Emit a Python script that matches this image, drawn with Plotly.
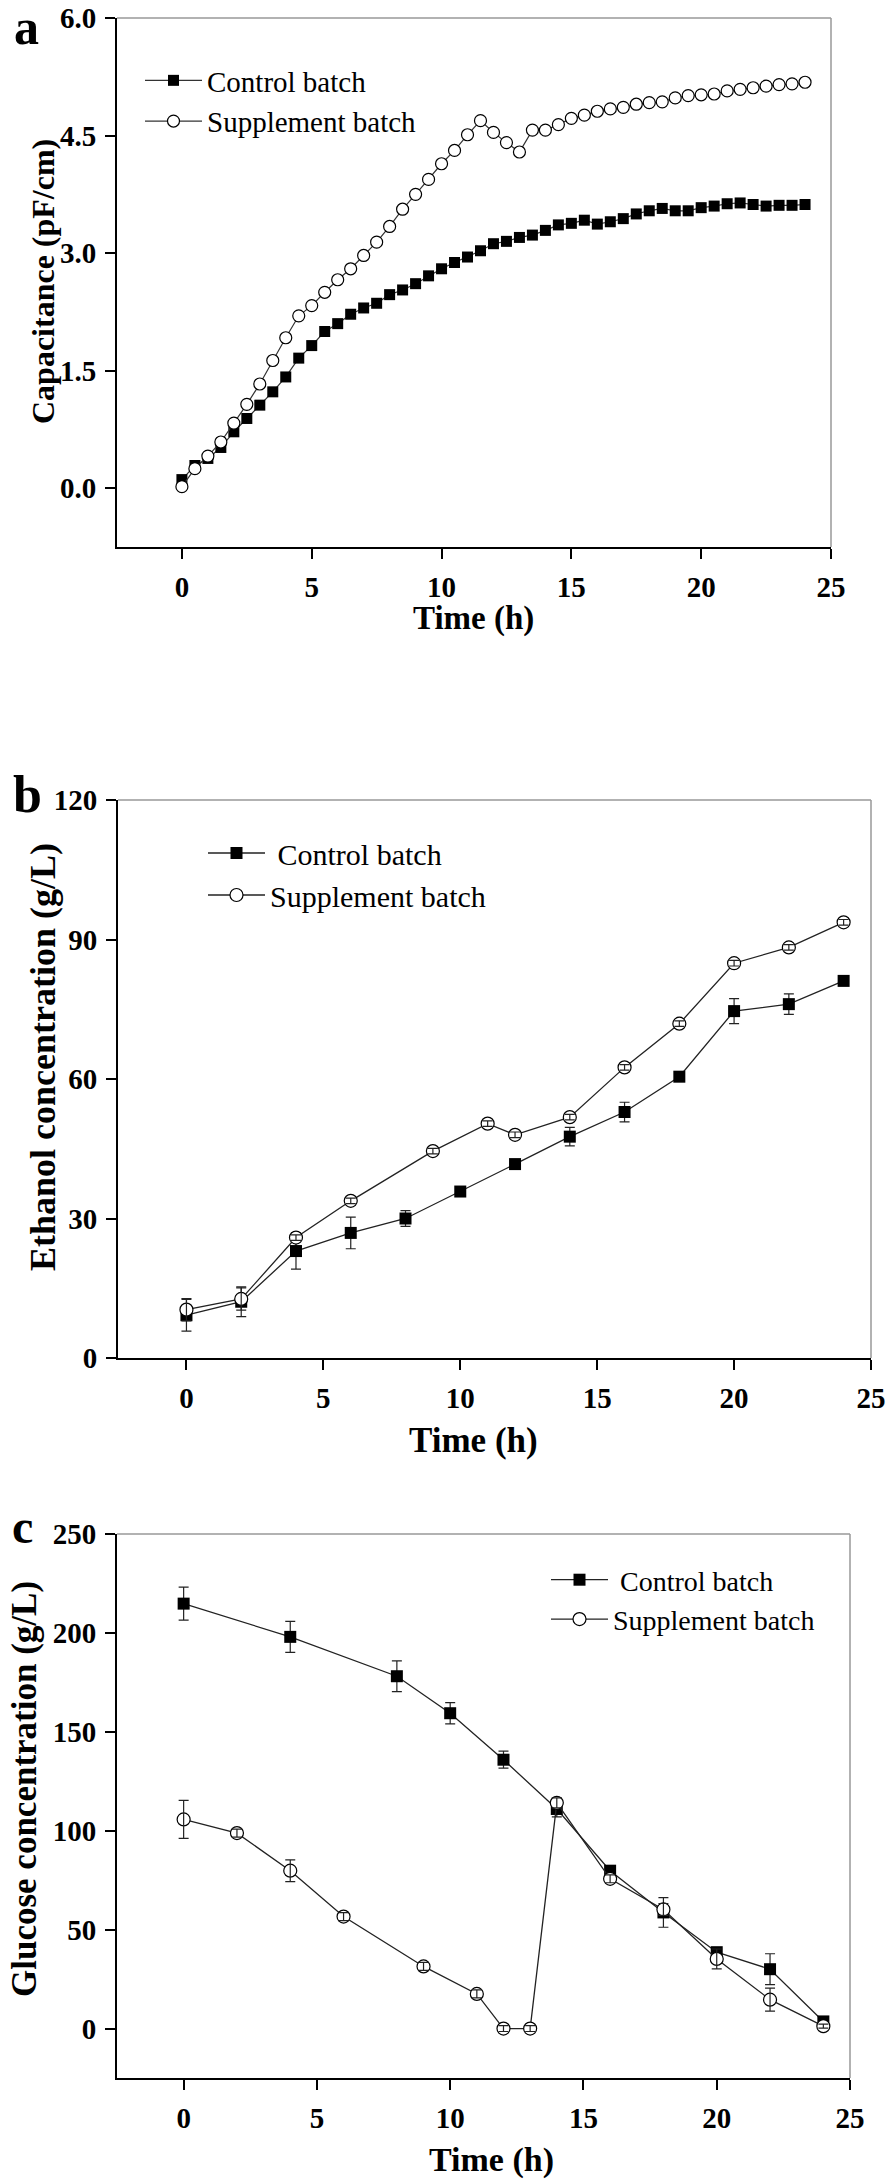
import plotly.graph_objects as go

W, H = 896, 2182

# ---------------- Data ----------------
# Panel a: capacitance (pF/cm)
t_cap = [0, 0.5, 1, 1.5, 2, 2.5, 3, 3.5, 4, 4.5, 5, 5.5, 6, 6.5, 7, 7.5, 8, 8.5, 9, 9.5,
         10, 10.5, 11, 11.5, 12, 12.5, 13, 13.5, 14, 14.5, 15, 15.5, 16, 16.5, 17, 17.5,
         18, 18.5, 19, 19.5, 20, 20.5, 21, 21.5, 22, 22.5, 23, 23.5, 24]
cap_control = [0.11, 0.29, 0.38, 0.52, 0.72, 0.89, 1.06, 1.23, 1.42, 1.66, 1.82, 2.00, 2.10,
               2.22, 2.30, 2.36, 2.47, 2.53, 2.61, 2.71, 2.80, 2.88, 2.95, 3.03, 3.12, 3.15,
               3.20, 3.23, 3.29, 3.36, 3.38, 3.42, 3.37, 3.40, 3.44, 3.50, 3.54, 3.57, 3.54,
               3.54, 3.58, 3.60, 3.63, 3.64, 3.62, 3.60, 3.61, 3.61, 3.62]
cap_supplement = [0.02, 0.25, 0.41, 0.59, 0.83, 1.07, 1.33, 1.63, 1.92, 2.20, 2.33, 2.50, 2.66,
                  2.80, 2.97, 3.14, 3.34, 3.56, 3.75, 3.94, 4.14, 4.31, 4.51, 4.69, 4.54, 4.41,
                  4.29, 4.57, 4.57, 4.64, 4.72, 4.76, 4.81, 4.84, 4.86, 4.90, 4.92, 4.93, 4.98,
                  5.01, 5.02, 5.03, 5.07, 5.09, 5.11, 5.13, 5.15, 5.16, 5.18]

# Panel b: ethanol concentration (g/L)
t_eth_control = [0, 2, 4, 6, 8, 10, 12, 14, 16, 18, 20, 22, 24]
eth_control = [9.2, 12.1, 23.0, 26.9, 30.0, 35.8, 41.7, 47.6, 52.9, 60.5, 74.6, 76.1, 81.1]
eth_control_err = [3.4, 3.2, 3.9, 3.4, 1.7, 0.8, 0.8, 2.0, 2.1, 0.8, 2.7, 2.2, 0.8]
t_eth_supplement = [0, 2, 4, 6, 9, 11, 12, 14, 16, 18, 20, 22, 24]
eth_supplement = [10.4, 12.7, 25.9, 33.8, 44.5, 50.4, 48.0, 51.8, 62.5, 71.9, 84.9, 88.3, 93.7]
eth_supplement_err = [2.4, 2.4, 0.6, 0.6, 0.6, 0.6, 0.6, 0.6, 0.6, 0.6, 0.6, 0.6, 0.6]

# Panel c: glucose concentration (g/L)
t_glu_control = [0, 4, 8, 10, 12, 14, 16, 18, 20, 22, 24]
glu_control = [214.8, 198.0, 178.1, 159.4, 135.9, 111.0, 79.8, 58.7, 38.6, 30.0, 3.6]
glu_control_err = [8.3, 7.8, 7.8, 5.4, 4.3, 4.0, 2.0, 7.5, 2.0, 7.8, 1.0]
t_glu_supplement = [0, 2, 4, 6, 9, 11, 12, 13, 14, 16, 18, 20, 22, 24]
glu_supplement = [105.7, 98.8, 79.8, 56.6, 31.4, 17.5, 0, 0, 114.1, 75.7, 60.2, 35.2, 14.6, 1.2]
glu_supplement_err = [9.6, 2.0, 5.5, 2.0, 2.0, 2.0, 1.5, 1.5, 2.5, 2.0, 3.0, 5.0, 5.8, 1.0]

x_ticks = [0, 5, 10, 15, 20, 25]
cap_ticks = [0, 1.5, 3.0, 4.5, 6.0]
eth_ticks = [0, 30, 60, 90, 120]
glu_ticks = [0, 50, 100, 150, 200, 250]

names = ["Control batch", "Supplement batch"]

# ---------------- Helpers ----------------
def px_x(p):
    return p / W

def px_y(p):
    return 1 - p / H

SERIF = "Liberation Serif"

fig = go.Figure()

sq = dict(symbol="square", color="black", size=11, line=dict(color="black", width=0))
circ = dict(symbol="circle", color="white", size=12, line=dict(color="black", width=1.2))

# Panel a
fig.add_trace(go.Scatter(x=t_cap, y=cap_control, mode="lines+markers", name=names[0],
                         line=dict(color="#333333", width=1.2), marker=sq,
                         xaxis="x", yaxis="y", legend="legend"))
fig.add_trace(go.Scatter(x=t_cap, y=cap_supplement, mode="lines+markers", name=names[1],
                         line=dict(color="#333333", width=1.2), marker=circ,
                         xaxis="x", yaxis="y", legend="legend"))

sq2 = dict(symbol="square", color="black", size=12, line=dict(color="black", width=0))
circ2 = dict(symbol="circle", color="white", size=13, line=dict(color="black", width=1.2))

def err(arr):
    return dict(type="data", array=arr, visible=True, color="#222222", thickness=1.2, width=5)

# Panel b
fig.add_trace(go.Scatter(x=t_eth_control, y=eth_control, mode="lines+markers",
                         name=" " + names[0], line=dict(color="#222222", width=1.3), marker=sq2,
                         error_y=err(eth_control_err),
                         xaxis="x2", yaxis="y2", legend="legend2"))
fig.add_trace(go.Scatter(x=t_eth_supplement, y=eth_supplement, mode="lines+markers",
                         name=names[1], line=dict(color="#222222", width=1.3), marker=circ2,
                         xaxis="x2", yaxis="y2", legend="legend2"))
fig.add_trace(go.Scatter(x=t_eth_supplement, y=eth_supplement, mode="markers",
                         marker=dict(size=1, color="rgba(0,0,0,0)"),
                         error_y=err(eth_supplement_err), showlegend=False, hoverinfo="skip",
                         xaxis="x2", yaxis="y2"))

# Panel c
fig.add_trace(go.Scatter(x=t_glu_control, y=glu_control, mode="lines+markers",
                         name=" " + names[0], line=dict(color="#222222", width=1.3), marker=sq2,
                         error_y=err(glu_control_err),
                         xaxis="x3", yaxis="y3", legend="legend3"))
fig.add_trace(go.Scatter(x=t_glu_supplement, y=glu_supplement, mode="lines+markers",
                         name=names[1], line=dict(color="#222222", width=1.3), marker=circ2,
                         xaxis="x3", yaxis="y3", legend="legend3"))
fig.add_trace(go.Scatter(x=t_glu_supplement, y=glu_supplement, mode="markers",
                         marker=dict(size=1, color="rgba(0,0,0,0)"),
                         error_y=err(glu_supplement_err), showlegend=False, hoverinfo="skip",
                         xaxis="x3", yaxis="y3"))

tickfont = dict(family=SERIF, size=29, color="black", weight="bold")
axis_common = dict(showline=True, linecolor="black", linewidth=2, ticks="outside",
                   ticklen=10, tickwidth=2, tickcolor="black", showgrid=False,
                   zeroline=False, tickfont=tickfont, fixedrange=True, automargin=False,
                   ticklabeloverflow="allow", ticklabelstandoff=3)

# domains (pixel boxes: left, right, top, bottom)
boxes = {
    "a": (117, 831, 18, 547),
    "b": (118, 871, 800, 1358),
    "c": (117, 850, 1534, 2078),
}

def dom(b):
    l, r, t, bt = b
    return [px_x(l), px_x(r)], [px_y(bt), px_y(t)]

xa, ya = dom(boxes["a"])
xb, yb = dom(boxes["b"])
xc, yc = dom(boxes["c"])

layout = dict(
    width=W, height=H, margin=dict(l=0, r=0, t=0, b=0, pad=0, autoexpand=False),
    paper_bgcolor="white", plot_bgcolor="white",
    xaxis=dict(domain=xa, anchor="y", range=[-2.5, 25], tickvals=x_ticks, **axis_common),
    yaxis=dict(domain=ya, anchor="x", range=[-0.75, 6.0], tickvals=cap_ticks, tickformat=".1f", **axis_common),
    xaxis2=dict(domain=xb, anchor="y2", range=[-2.5, 25], tickvals=x_ticks, **axis_common),
    yaxis2=dict(domain=yb, anchor="x2", range=[0, 120], tickvals=eth_ticks, **axis_common),
    xaxis3=dict(domain=xc, anchor="y3", range=[-2.5, 25], tickvals=x_ticks, **axis_common),
    yaxis3=dict(domain=yc, anchor="x3", range=[-25, 250], tickvals=glu_ticks, **axis_common),
    showlegend=True,
)

def leg(x, y, size):
    return dict(x=px_x(x), y=px_y(y), xanchor="left", yanchor="top",
                bgcolor="rgba(0,0,0,0)", borderwidth=0, itemwidth=57,
                font=dict(family=SERIF, size=size, color="black"),
                tracegroupgap=0, itemclick=False, itemdoubleclick=False)

layout["legend"] = leg(140, 55, 29)
layout["legend2"] = leg(203, 827, 30)
layout["legend3"] = leg(546, 1555, 28)

fig.update_layout(**layout)

# top and right frame lines (thin gray)
for i in ["", "2", "3"]:
    fig.add_shape(type="line", xref=f"x{i} domain", yref=f"y{i} domain", x0=0, x1=1, y0=1, y1=1,
                  line=dict(color="#999999", width=1.5))
    fig.add_shape(type="line", xref=f"x{i} domain", yref=f"y{i} domain", x0=1, x1=1, y0=0, y1=1,
                  line=dict(color="#999999", width=1.5))

def ann(text, x, y, size, angle=0, bold=True):
    fig.add_annotation(text=text, x=px_x(x), y=px_y(y), xref="paper", yref="paper",
                       xanchor="center", yanchor="middle", showarrow=False, textangle=angle,
                       font=dict(family=SERIF, size=size, color="black",
                                 weight="bold" if bold else "normal"))

# panel letters
ann("a", 26, 27, 50)
ann("b", 27.5, 794, 52)
ann("c", 22.5, 1526, 48)

# axis titles
ann("Time (h)", 474, 618, 33)
ann("Capacitance (pF/cm)", 43, 282, 32, angle=-90)
ann("Time (h)", 474, 1440, 35)
ann("Ethanol concentration (g/L)", 43, 1057, 36, angle=-90)
ann("Time (h)", 491, 2160, 34)
ann("Glucose concentration (g/L)", 24, 1789, 35, angle=-90)

# the page's default 8 px body margin would shift the figure; remove it
fig.write_html("out.html", config={"displayModeBar": False},
               post_script="document.body.style.margin='0px';")
